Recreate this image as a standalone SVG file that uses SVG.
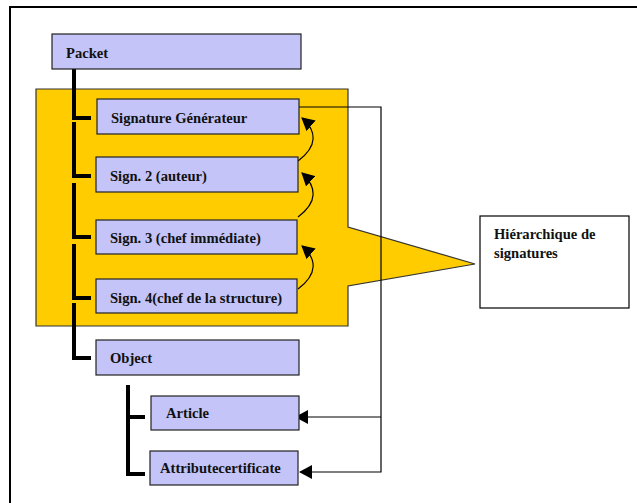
<svg xmlns="http://www.w3.org/2000/svg" width="637" height="503" viewBox="0 0 637 503">
  <style>
    .box { fill: #c4c4f8; stroke: #222; stroke-width: 1.2; }
    .lbl { font-weight: bold; font-size: 14.6px; fill: #111; }
    .tree { fill: none; stroke: #000; stroke-width: 4; }
    .link { fill: none; stroke: #000; stroke-width: 1.2; }
  </style>
  <defs>
    <marker id="head" viewBox="0 0 13 14" refX="12" refY="7" markerWidth="13" markerHeight="14" markerUnits="userSpaceOnUse" orient="auto">
      <path d="M0,0 L13,7 L0,14 Z" fill="#000"/>
    </marker>
  </defs>

  <!-- page frame -->
  <rect x="10" y="7" width="700" height="600" fill="#fff" stroke="#000" stroke-width="2"/>

  <!-- highlighted group with callout -->
  <path id="signature-area" d="M36,89 H348 V227 L475,264 L348,286 V326 H36 Z" fill="#ffcc00" stroke="#333" stroke-width="1.2"/>

  <g font-family="'Liberation Serif', 'Times New Roman', 'DejaVu Serif', serif">
  <g id="callout">
    <rect x="480" y="216" width="149" height="92" fill="#fff" stroke="#000" stroke-width="1.2"/>
    <text class="lbl" x="494" y="239">Hiérarchique de</text>
    <text class="lbl" x="494" y="258">signatures</text>
  </g>

  <g id="connectors">
    <!-- tree -->
    <path class="tree" d="M74,69 V118 H91"/>
    <path class="tree" d="M74,122 V176 H91"/>
    <path class="tree" d="M74,183 V237 H91"/>
    <path class="tree" d="M74,244 V298 H91"/>
    <path class="tree" d="M74,303 V358 H91"/>
    <path class="tree" d="M128,385 V474 H145 M128,417 H145"/>
    <!-- links to the object parts -->
    <path class="link" d="M299,107 H381 V472 H300" marker-end="url(#head)"/>
    <path class="link" d="M381,417 H296" marker-end="url(#head)"/>
    <!-- chain of signatures -->
    <path class="link" d="M298,161 C318,146 317,131 302,118" marker-end="url(#head)"/>
    <path class="link" d="M298,217 C318,202 317,187 302,173" marker-end="url(#head)"/>
    <path class="link" d="M298,289 C318,274 317,259 302,246" marker-end="url(#head)"/>
  </g>

  <g id="packet">
    <rect class="box" x="52" y="34" width="249" height="35"/>
    <text class="lbl" x="66" y="58">Packet</text>
  </g>
  <g id="sig-generateur">
    <rect class="box" x="97" y="99" width="202" height="35"/>
    <text class="lbl" x="111" y="123">Signature Générateur</text>
  </g>
  <g id="sig-2">
    <rect class="box" x="96" y="157" width="202" height="35"/>
    <text class="lbl" x="110" y="181">Sign. 2 (auteur)</text>
  </g>
  <g id="sig-3">
    <rect class="box" x="96" y="220" width="201" height="34"/>
    <text class="lbl" x="110" y="243">Sign. 3 (chef immédiate)</text>
  </g>
  <g id="sig-4">
    <rect class="box" x="96" y="279" width="201" height="34"/>
    <text class="lbl" x="110" y="303">Sign. 4(chef de la structure)</text>
  </g>
  <g id="object">
    <rect class="box" x="96" y="340" width="203" height="35"/>
    <text class="lbl" x="110" y="363">Object</text>
  </g>
  <g id="article">
    <rect class="box" x="151" y="396" width="148" height="34"/>
    <text class="lbl" x="166" y="418">Article</text>
  </g>
  <g id="attribute-certificate">
    <rect class="box" x="150" y="451" width="148" height="34"/>
    <text class="lbl" x="160" y="473">Attributecertificate</text>
  </g>
  </g>
</svg>
